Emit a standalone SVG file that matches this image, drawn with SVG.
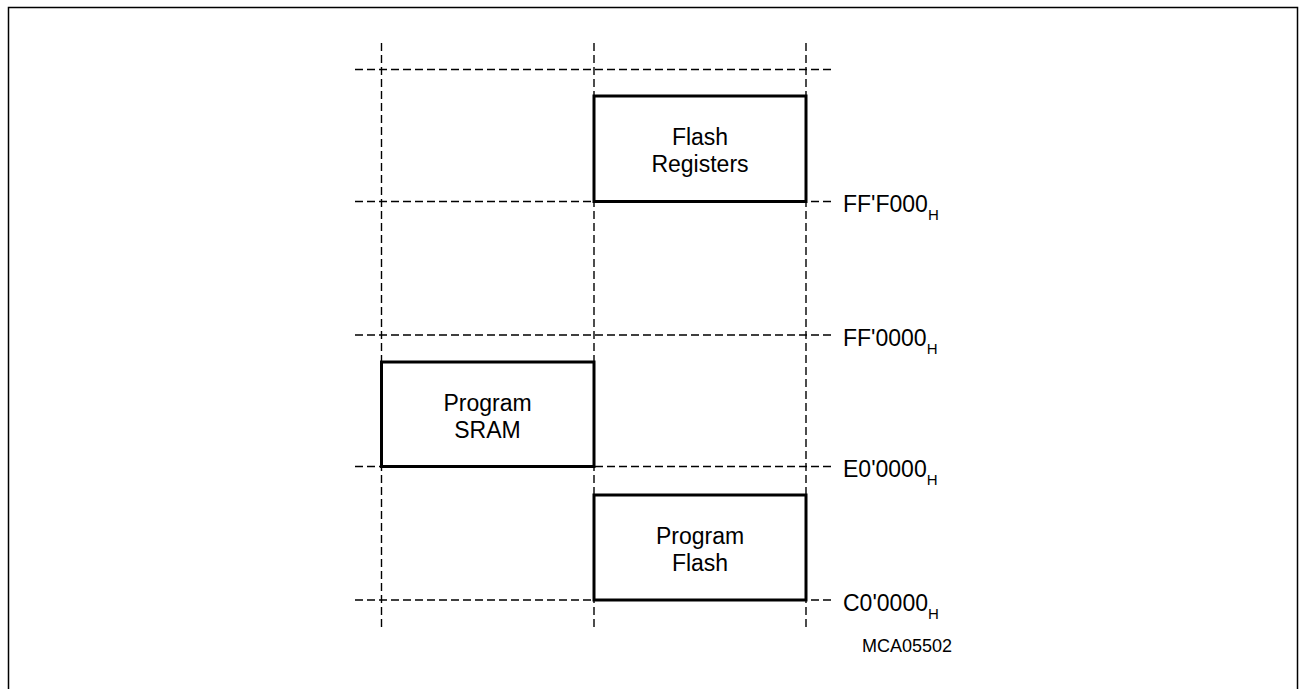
<svg xmlns="http://www.w3.org/2000/svg" width="1299" height="689" viewBox="0 0 1299 689">
<style>
.grid{stroke:#000;stroke-width:1.4;stroke-dasharray:8 4;fill:none}
.box{fill:#fff;stroke:#000;stroke-width:3}
.t{font-family:"Liberation Sans",Arial,sans-serif;font-size:23px;fill:#000}
.c{text-anchor:middle}
.sub{font-size:15px}
.id{font-family:"Liberation Sans",Arial,sans-serif;font-size:18px;fill:#000}
</style>
<rect x="8.5" y="7.5" width="1289" height="700" fill="#fff" stroke="#000" stroke-width="1.5"/>
<g id="connectors">
<line class="grid" x1="381.5" y1="43" x2="381.5" y2="628"/>
<line class="grid" x1="594" y1="43" x2="594" y2="628"/>
<line class="grid" x1="806" y1="43" x2="806" y2="628"/>
<line class="grid" x1="355" y1="69.5" x2="834" y2="69.5"/>
<line class="grid" x1="355" y1="201.5" x2="834" y2="201.5"/>
<line class="grid" x1="355" y1="335" x2="834" y2="335"/>
<line class="grid" x1="355" y1="466.5" x2="834" y2="466.5"/>
<line class="grid" x1="355" y1="600" x2="834" y2="600"/>
</g>
<g id="flash-registers">
<rect class="box" x="594" y="96" width="212" height="105.5"/>
<text class="t c" x="700" y="145">Flash</text>
<text class="t c" x="700" y="172">Registers</text>
</g>
<g id="program-sram">
<rect class="box" x="381.5" y="362" width="212.5" height="104.5"/>
<text class="t c" x="487.5" y="411">Program</text>
<text class="t c" x="487.5" y="438">SRAM</text>
</g>
<g id="program-flash">
<rect class="box" x="594" y="495" width="212" height="105"/>
<text class="t c" x="700" y="544">Program</text>
<text class="t c" x="700" y="571">Flash</text>
</g>
<g id="labels">
<text class="t" x="843" y="212">FF'F000<tspan class="sub" dy="8">H</tspan></text>
<text class="t" x="843" y="345.5">FF'0000<tspan class="sub" dy="8">H</tspan></text>
<text class="t" x="843" y="477">E0'0000<tspan class="sub" dy="8">H</tspan></text>
<text class="t" x="843" y="610.5">C0'0000<tspan class="sub" dy="8">H</tspan></text>
<text class="id" x="952" y="652" text-anchor="end">MCA05502</text>
</g>
</svg>
